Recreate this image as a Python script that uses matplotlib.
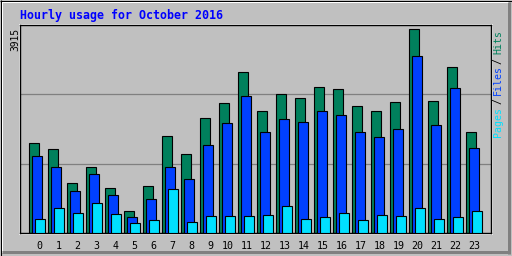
import matplotlib
matplotlib.use("Agg")
import matplotlib.pyplot as plt
from matplotlib.lines import Line2D
from matplotlib.patches import Rectangle

# ---- data ----
hours = list(range(24))
hits = [1721, 1606, 954, 1261, 858, 416, 896, 1856, 1510, 2201, 2489, 3084,
        2335, 2662, 2585, 2796, 2758, 2431, 2335, 2508, 3915, 2527, 3180, 1932]
files = [1472, 1261, 800, 1126, 723, 301, 647, 1261, 1031, 1683, 2105, 2623,
         1932, 2182, 2124, 2335, 2259, 1932, 1837, 1990, 3391, 2067, 2777, 1625]
pages = [263, 474, 378, 570, 359, 186, 244, 839, 205, 320, 320, 320,
         340, 512, 263, 301, 378, 244, 340, 320, 474, 263, 301, 416]
title = "Hourly usage for October 2016"
max_label = "3915"

C_HITS = "#00805C"
C_FILES = "#0040FF"
C_PAGES = "#00E0FF"
BG = "#C0C0C0"
W, H = 512, 256


def px(x, y):
    # image pixel coords (origin top-left) -> figure fraction
    return x / W, 1 - y / H


fig = plt.figure(figsize=(W / 100, H / 100), dpi=100, facecolor=BG)

# plot area in pixels: x 20..491, y 25..233
x0, x1, y0, y1 = 20, 491, 25, 233
ax = fig.add_axes([x0 / W, 1 - y1 / H, (x1 - x0) / W, (y1 - y0) / H])
ax.set_facecolor(BG)

# white inset edge around the plot area
fig.patches.append(Rectangle(((x0 - 1.5) / W, 1 - (y1 + 1.5) / H),
                             (x1 - x0 + 3) / W, (y1 - y0 + 3) / H,
                             transform=fig.transFigure, facecolor="white",
                             edgecolor="none", zorder=-1))

step = 19.0
bw = 10 / step
off = 3 / step
ymax = max(hits) * 208 / 204
lw = 0.8

ax.bar([h - off for h in hours], hits, width=bw, color=C_HITS, edgecolor="black", linewidth=lw, zorder=2)
ax.bar(hours, files, width=bw, color=C_FILES, edgecolor="black", linewidth=lw, zorder=3)
ax.bar([h + off for h in hours], pages, width=bw, color=C_PAGES, edgecolor="black", linewidth=lw, zorder=4)

for frac in (1 / 3, 2 / 3):
    ax.axhline(ymax * frac, color="#808080", linewidth=0.9, zorder=1)

ax.set_xlim(-17.3 / step, (x1 - 37.3) / step)
ax.set_ylim(0, ymax)
ax.set_yticks([])
ax.set_xticks(hours)
ax.set_xticklabels([f"{h:>2}" for h in hours], family="DejaVu Sans Mono", fontsize=7.2)
ax.tick_params(axis="x", length=0, pad=5.5)
for s in ax.spines.values():
    s.set_color("black")
    s.set_linewidth(1.0)

# title
fig.text(*px(20, 15), title, color="#0000FF", family="DejaVu Sans Mono",
         fontweight="bold", fontsize=8.4, ha="left", va="center")

# max value label
fig.text(*px(15, 28), max_label, rotation=90, family="DejaVu Sans Mono",
         fontsize=6.9, ha="center", va="top")

# right legend, reading bottom to top (y = bottom edge in image px)
legend = [("Pages", C_PAGES, 137), ("Files", C_FILES, 95), ("Hits", C_HITS, 53.5)]
for txt, col, yb in legend:
    fig.text(*px(498, yb), txt, rotation=90, color=col, family="DejaVu Sans Mono",
             fontsize=7.1, ha="center", va="bottom")
for ys in (101, 61.5):
    fig.text(*px(498, ys), "/", rotation=90, color="black", family="DejaVu Sans Mono",
             fontsize=7.1, ha="center", va="center")


# outer 3D frame
def hline(y, xa, xb, color, w=1):
    fig.add_artist(Line2D([xa / W, xb / W], [1 - y / H] * 2, transform=fig.transFigure,
                          color=color, linewidth=w * 0.72, solid_capstyle="butt"))


def vline(x, ya, yb, color, w=1):
    fig.add_artist(Line2D([x / W] * 2, [1 - ya / H, 1 - yb / H], transform=fig.transFigure,
                          color=color, linewidth=w * 0.72, solid_capstyle="butt"))


hline(1.5, 1, 509, "white", 2)
vline(1.5, 1, 253, "white", 2)
hline(252, 2, 510, "#808080", 3)
vline(508.5, 2, 254, "#808080", 3)
hline(0.5, 0, W, "black")
vline(0.5, 0, H, "black")
hline(255.5, 0, W, "black")
vline(511.5, 0, H, "black")

fig.savefig("out.png", dpi=100, facecolor=BG)
